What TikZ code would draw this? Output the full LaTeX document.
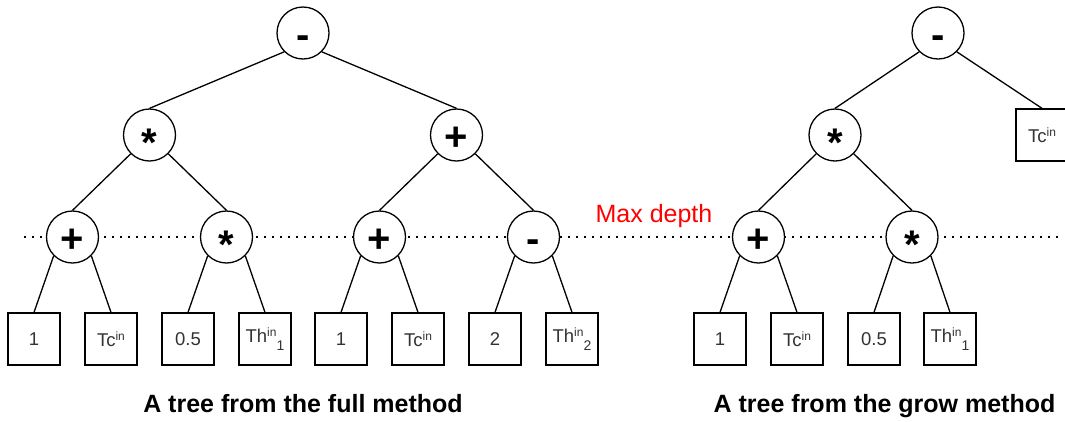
\documentclass[tikz,border=0pt]{standalone}
\usepackage{fontspec}
\setmainfont{Liberation Sans}
\newcommand\hisup[1]{\raisebox{6.5pt}{\fontsize{12}{12}\selectfont #1}}
\newcommand\losub[1]{\raisebox{-7.5pt}{\fontsize{14}{14}\selectfont #1}}
\newcommand\opstar{\raisebox{-6pt}{*}}
\tikzset{
  op/.style={circle, draw, fill=white, line width=1.3pt, minimum size=52pt,
    inner sep=0pt, font=\fontsize{40}{40}\selectfont\bfseries,
    text height=30pt, text depth=0pt},
  leaf/.style={rectangle, draw, fill=white, line width=1.3pt,
    minimum width=52pt, minimum height=52pt, inner sep=0pt,
    font=\fontsize{18.5}{18.5}\selectfont, text=black!80},
  link/.style={line width=1.3pt},
  depthline/.style={line width=1.8pt, dash pattern=on 1.8pt off 6.2pt},
  caption/.style={font=\fontsize{25}{25}\selectfont\bfseries, anchor=base},
}
\begin{document}
\begin{tikzpicture}[x=1pt, y=-1pt]
  \useasboundingbox (0,0) rectangle (1065,421);
  \clip (0,0) rectangle (1065,421);

  % depth limit, drawn first so the operator circles cover it
  \coordinate (dl) at (24,237);
  \coordinate (dr) at (1060,237);
  \draw[depthline] (dl) -- (dr);
  \node[text=red, font=\fontsize{25}{25}\selectfont, anchor=base] (md) at (654,222) {Max depth};

  % full method tree
  \node[op] (r)  at (303,33)    {-};
  \node[op] (a1) at (149.5,135) {\opstar};
  \node[op] (a2) at (456.5,135) {+};
  \node[op] (b1) at (72.5,237)  {+};
  \node[op] (b2) at (226.5,237) {\opstar};
  \node[op] (b3) at (379.5,237) {+};
  \node[op] (b4) at (533.5,237) {-};
  \node[leaf] (l1) at (34,339)  {1};
  \node[leaf] (l2) at (111,339) {Tc\hisup{in}};
  \node[leaf] (l3) at (188,339) {0.5};
  \node[leaf] (l4) at (265,339) {Th\hisup{in}\losub{1}};
  \node[leaf] (l5) at (341,339) {1};
  \node[leaf] (l6) at (418,339) {Tc\hisup{in}};
  \node[leaf] (l7) at (495,339) {2};
  \node[leaf] (l8) at (572,339) {Th\hisup{in}\losub{2}};

  \draw[link] (r.south west)  -- (a1.north);
  \draw[link] (r.south east)  -- (a2.north);
  \draw[link] (a1.south west) -- (b1.north);
  \draw[link] (a1.south east) -- (b2.north);
  \draw[link] (a2.south west) -- (b3.north);
  \draw[link] (a2.south east) -- (b4.north);
  \draw[link] (b1.south west) -- (l1.north);
  \draw[link] (b1.south east) -- (l2.north);
  \draw[link] (b2.south west) -- (l3.north);
  \draw[link] (b2.south east) -- (l4.north);
  \draw[link] (b3.south west) -- (l5.north);
  \draw[link] (b3.south east) -- (l6.north);
  \draw[link] (b4.south west) -- (l7.north);
  \draw[link] (b4.south east) -- (l8.north);

  % grow method tree
  \node[op] (R)  at (938,33)    {-};
  \node[op] (A)  at (835,135)   {\opstar};
  \node[leaf] (T) at (1042,135) {Tc\hisup{in}};
  \node[op] (B1) at (758.5,237) {+};
  \node[op] (B2) at (912,237)   {\opstar};
  \node[leaf] (L1) at (720,339) {1};
  \node[leaf] (L2) at (797,339) {Tc\hisup{in}};
  \node[leaf] (L3) at (874,339) {0.5};
  \node[leaf] (L4) at (950,339) {Th\hisup{in}\losub{1}};

  \draw[link] (R.south west)  -- (A.north);
  \draw[link] (R.south east)  -- (T.north);
  \draw[link] (A.south west)  -- (B1.north);
  \draw[link] (A.south east)  -- (B2.north);
  \draw[link] (B1.south west) -- (L1.north);
  \draw[link] (B1.south east) -- (L2.north);
  \draw[link] (B2.south west) -- (L3.north);
  \draw[link] (B2.south east) -- (L4.north);

  % captions
  \node[caption] (c1) at (303,412)   {A tree from the full method};
  \node[caption] (c2) at (884.5,412) {A tree from the grow method};
\end{tikzpicture}
\end{document}
